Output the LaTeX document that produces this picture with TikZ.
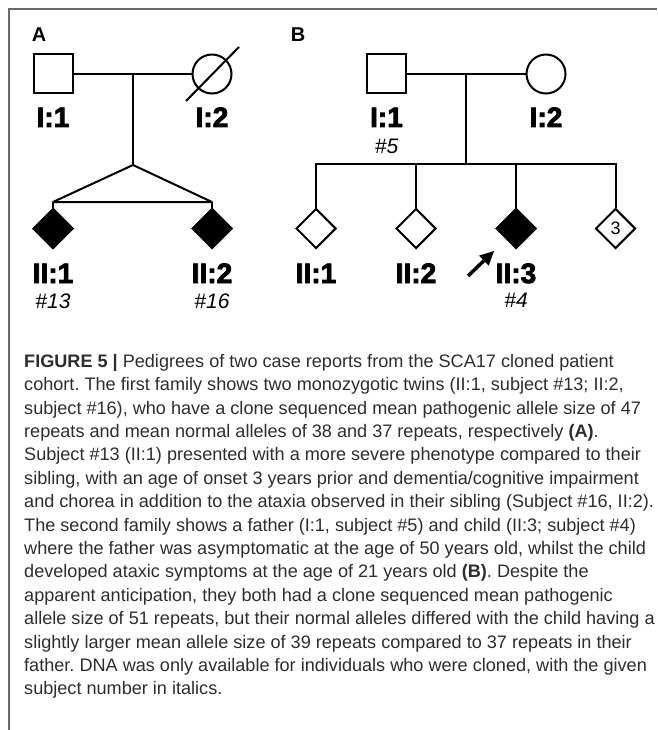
\documentclass[tikz,border=0pt]{standalone}
\usepackage{fontspec}
\setmainfont{Liberation Sans}
\newfontfamily\heavyfont[FakeBold=3]{Liberation Sans Bold}
\usetikzlibrary{shapes.geometric,calc}
\definecolor{captext}{RGB}{45,45,45}
\definecolor{framegray}{RGB}{105,105,105}
\tikzset{
  male/.style={draw,rectangle,minimum size=39pt,inner sep=0pt,line width=2pt},
  female/.style={draw,circle,minimum size=39pt,inner sep=0pt,line width=2pt},
  unknown/.style={draw,diamond,aspect=1,minimum size=40pt,inner sep=0pt,line width=2pt},
  affected/.style={fill=black},
  pedline/.style={line width=2pt},
  idlabel/.style={anchor=base,inner sep=0pt,font=\fontsize{28}{32}\selectfont\heavyfont},
  sublabel/.style={anchor=base,inner sep=0pt,font=\fontsize{21}{25}\selectfont\itshape},
  panel/.style={anchor=base,inner sep=0pt,font=\fontsize{20}{24}\selectfont\bfseries},
  capline/.style={anchor=base west,inner sep=0pt,text=captext,font=\fontsize{18.1}{21}\selectfont\frenchspacing},
}
\begin{document}
\begin{tikzpicture}[x=1pt,y=-1pt]
  \useasboundingbox (0,0) rectangle (657,730);
  \draw[framegray,line width=1.5pt] (9,730) -- (9,9) -- (657,9);
  % family A
  \node[panel] (pA) at (39,42) {A};
  \node[male] (fa1) at (53,74) {};
  \node[female] (fa2) at (212,74) {};
  \draw[pedline] (fa1.east) -- (fa2.west);
  \draw[pedline] ([shift={(-26,27)}]fa2.center) -- ([shift={(27,-27)}]fa2.center);
  \coordinate (ma) at (133,74);
  \coordinate (ta) at (133,165);
  \coordinate (tw1) at (53,202);
  \coordinate (tw2) at (212,202);
  \node[unknown,affected] (ta1) at (53,228.5) {};
  \node[unknown,affected] (ta2) at (212,228.5) {};
  \draw[pedline] (ma) -- (ta);
  \draw[pedline,line join=round] (ta) -- (tw1) -- (tw2) -- cycle;
  \draw[pedline] (tw1) -- (ta1.north);
  \draw[pedline] (tw2) -- (ta2.north);
  \node[idlabel] (la1) at (53,127) {I:1};
  \node[idlabel] (la2) at (212,127) {I:2};
  \node[idlabel] (lt1) at (53,283) {II:1};
  \node[sublabel] (st1) at (53,308) {\#13};
  \node[idlabel] (lt2) at (212,283) {II:2};
  \node[sublabel] (st2) at (212,308) {\#16};
  % family B
  \node[panel] (pB) at (298,42) {B};
  \node[male] (fb1) at (386.5,74) {};
  \node[female] (fb2) at (546,74) {};
  \draw[pedline] (fb1.east) -- (fb2.west);
  \coordinate (mb) at (466,74);
  \coordinate (sb) at (466,164);
  \draw[pedline] (mb) -- (sb);
  \node[unknown] (cb1) at (316,228.5) {};
  \node[unknown] (cb2) at (416,228.5) {};
  \node[unknown,affected] (cb3) at (516,228.5) {};
  \node[unknown,font=\fontsize{18}{20}\selectfont] (cb4) at (615.5,228.5) {3};
  \draw[pedline] (cb1.north) -- (cb1.north |- sb) -- (cb4.north |- sb) -- (cb4.north);
  \draw[pedline] (cb2.north) -- (cb2.north |- sb);
  \draw[pedline] (cb3.north) -- (cb3.north |- sb);
  \node[idlabel] (lb1) at (386.5,127) {I:1};
  \node[sublabel] (sb1) at (386.5,154) {\#5};
  \node[idlabel] (lb2) at (546,127) {I:2};
  \node[idlabel] (lc1) at (316,283) {II:1};
  \node[idlabel] (lc2) at (416,283) {II:2};
  \node[idlabel] (lc3) at (516,283) {II:3};
  \node[sublabel] (sc3) at (516,307) {\#4};
  % proband arrow
  \coordinate (pa) at (468,276);
  \coordinate (pt) at (494,251);
  \coordinate (pb) at ($(pt)!14pt!(pa)$);
  \draw[line width=3.5pt] (pa) -- (pb);
  \fill ($(pb)!7pt!90:(pt)$) -- (pt) -- ($(pb)!7pt!-90:(pt)$) -- cycle;
  % caption
  \foreach \t [count=\i] in {
    {\textbf{FIGURE 5 |} Pedigrees of two case reports from the SCA17 cloned patient},
    {cohort. The first family shows two monozygotic twins (II:1, subject \#13; II:2,},
    {subject \#16), who have a clone sequenced mean pathogenic allele size of 47},
    {repeats and mean normal alleles of 38 and 37 repeats, respectively \textbf{(A)}.},
    {Subject \#13 (II:1) presented with a more severe phenotype compared to their},
    {sibling, with an age of onset 3 years prior and dementia/cognitive impairment},
    {and chorea in addition to the ataxia observed in their sibling (Subject \#16, II:2).},
    {The second family shows a father (I:1, subject \#5) and child (II:3; subject \#4)},
    {where the father was asymptomatic at the age of 50 years old, whilst the child},
    {developed ataxic symptoms at the age of 21 years old \textbf{(B)}. Despite the},
    {apparent anticipation, they both had a clone sequenced mean pathogenic},
    {allele size of 51 repeats, but their normal alleles differed with the child having a},
    {slightly larger mean allele size of 39 repeats compared to 37 repeats in their},
    {father. DNA was only available for individuals who were cloned, with the given},
    {subject number in italics.}}
    \node[capline] (cap\i) at (24,367.2+23.4*\i-23.4) {\t};
\end{tikzpicture}
\end{document}
